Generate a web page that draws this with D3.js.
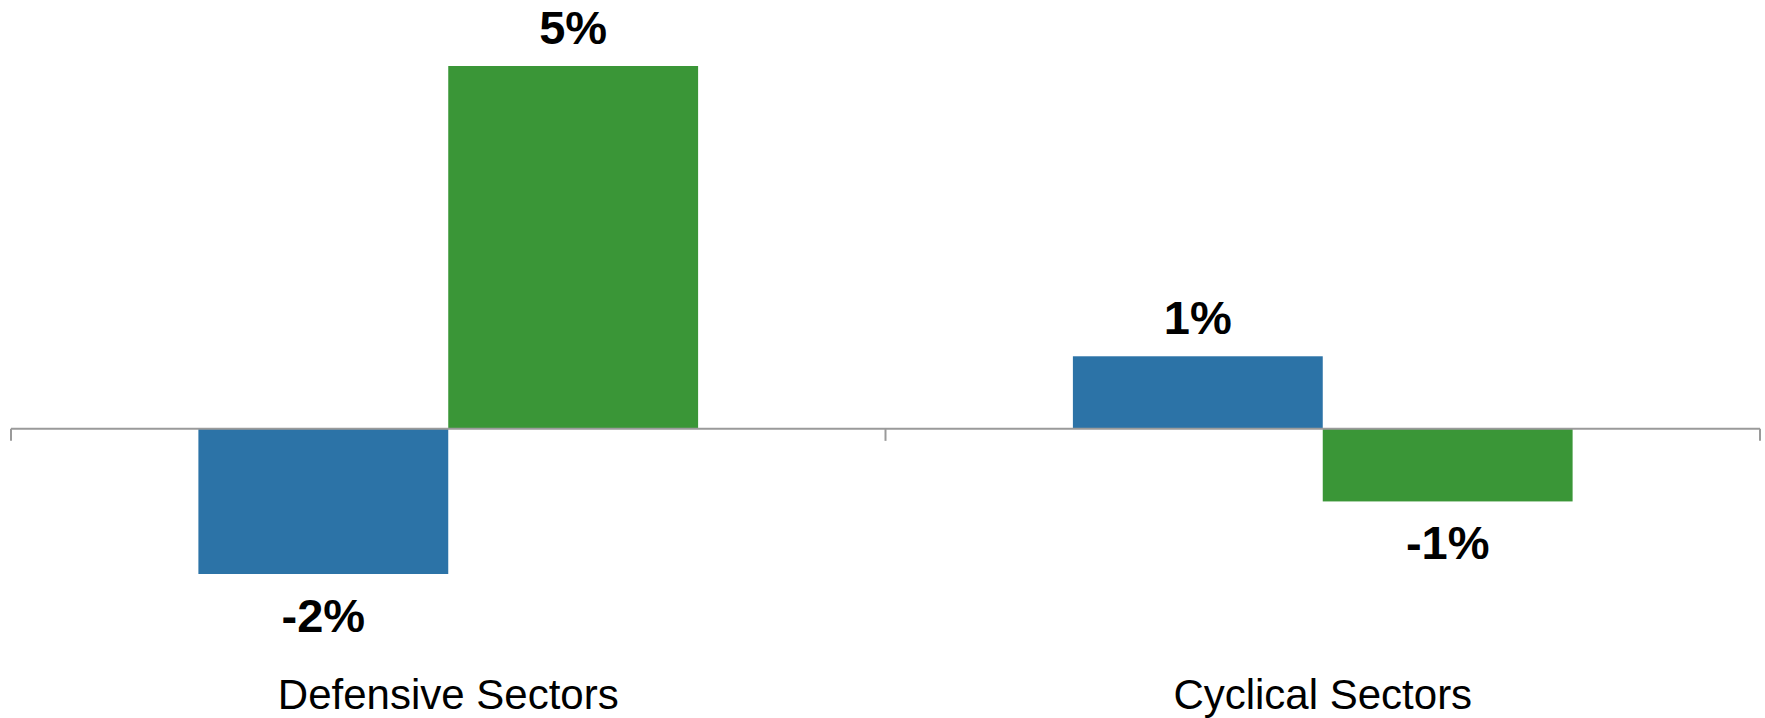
<!DOCTYPE html>
<html>
<head>
<meta charset="utf-8">
<script src="https://cdn.jsdelivr.net/npm/d3@7/dist/d3.min.js"></script>
<style>
  html, body { margin: 0; padding: 0; background: #ffffff; }
  svg { display: block; }
  text { font-family: "Liberation Sans", Arial, Helvetica, sans-serif; }
</style>
</head>
<body>
<svg id="chart" width="1765" height="718"></svg>
<script>
// Sector return data (percent)
const categories = ["Defensive Sectors", "Cyclical Sectors"];
const seriesNames = ["First period", "Second period"];
const firstPeriod = [-2, 1];
const secondPeriod = [5, -1];
const seriesColors = ["#2c73a7", "#3a9637"];

const width = 1765, height = 718;
const svg = d3.select("#chart");

const rows = categories.map((c, i) => ({
  category: c,
  values: [
    { key: seriesNames[0], value: firstPeriod[i] },
    { key: seriesNames[1], value: secondPeriod[i] }
  ]
}));

const x0 = d3.scaleBand()
  .domain(categories)
  .range([11, 1760])
  .paddingInner(0)
  .paddingOuter(0);

const x1 = d3.scaleBand()
  .domain(seriesNames)
  .range([0, x0.bandwidth()])
  .paddingInner(0)
  .paddingOuter(0.75);

const y = d3.scaleLinear()
  .domain([-2, 5])
  .range([574, 66]);

const color = d3.scaleOrdinal().domain(seriesNames).range(seriesColors);

const y0 = y(0);

// Bars
const groups = svg.append("g")
  .selectAll("g")
  .data(rows)
  .join("g")
  .attr("transform", d => `translate(${x0(d.category)},0)`);

groups.selectAll("rect")
  .data(d => d.values)
  .join("rect")
  .attr("x", d => x1(d.key))
  .attr("width", x1.bandwidth())
  .attr("y", d => y(Math.max(0, d.value)))
  .attr("height", d => Math.abs(y(d.value) - y0))
  .attr("fill", d => color(d.key));

// Value labels (plain hyphen for negatives)
groups.selectAll("text.value")
  .data(d => d.values)
  .join("text")
  .attr("class", "value")
  .attr("x", d => x1(d.key) + x1.bandwidth() / 2)
  .attr("y", d => d.value >= 0 ? y(d.value) - 22 : y(d.value) + 58)
  .attr("text-anchor", "middle")
  .attr("font-size", 47)
  .attr("font-weight", "bold")
  .attr("fill", "#000")
  .text(d => String(d.value) + "%");

// Category axis along zero line
const boundaries = [x0.range()[0]].concat(categories.map(c => x0(c) + x0.bandwidth()));
const axis = svg.append("g");
axis.append("line")
  .attr("x1", x0.range()[0]).attr("x2", x0.range()[1])
  .attr("y1", y0).attr("y2", y0)
  .attr("stroke", "#9a9a9a")
  .attr("stroke-width", 2);
axis.selectAll("line.tick")
  .data(boundaries)
  .join("line")
  .attr("class", "tick")
  .attr("x1", d => d).attr("x2", d => d)
  .attr("y1", y0).attr("y2", y0 + 12)
  .attr("stroke", "#9a9a9a")
  .attr("stroke-width", 2);

// Category labels
svg.append("g")
  .selectAll("text")
  .data(categories)
  .join("text")
  .attr("x", d => x0(d) + x0.bandwidth() / 2)
  .attr("y", 709)
  .attr("text-anchor", "middle")
  .attr("font-size", 42)
  .attr("fill", "#000")
  .text(d => d);
</script>
</body>
</html>
